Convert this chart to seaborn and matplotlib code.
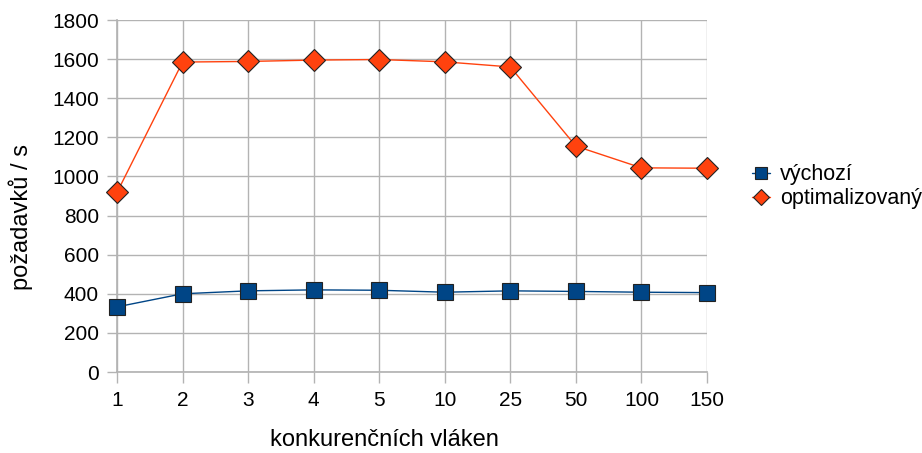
import matplotlib
matplotlib.use("Agg")
import matplotlib.pyplot as plt
import seaborn as sns
import pandas as pd

categories = ["1", "2", "3", "4", "5", "10", "25", "50", "100", "150"]
vychozi = [333, 400, 415, 420, 418, 408, 415, 412, 408, 406]
optimalizovany = [918, 1585, 1588, 1595, 1598, 1586, 1560, 1155, 1044, 1042]
series_names = ["výchozí", "optimalizovaný"]
yticks = [0, 200, 400, 600, 800, 1000, 1200, 1400, 1600, 1800]

df = pd.DataFrame({
    "x": list(range(len(categories))) * 2,
    "y": vychozi + optimalizovany,
    "series": [series_names[0]] * len(categories) + [series_names[1]] * len(categories),
})

sns.set_theme(style="white")
plt.rcParams["font.family"] = ["Liberation Sans", "DejaVu Sans"]
plt.rcParams["text.color"] = "black"
plt.rcParams["axes.labelcolor"] = "black"
plt.rcParams["xtick.labelcolor"] = "black"
plt.rcParams["ytick.labelcolor"] = "black"

fig = plt.figure(figsize=(9.22, 4.53), dpi=100)
ax = fig.add_axes([117 / 922, 1 - 372 / 453, (707 - 117) / 922, (372 - 20) / 453])

palette = {series_names[0]: "#004586", series_names[1]: "#ff420e"}
markers = {series_names[0]: "s", series_names[1]: "D"}
sns.lineplot(data=df, x="x", y="y", hue="series", style="series", palette=palette,
             markers=markers, dashes=False, linewidth=1, markersize=11,
             markeredgecolor="#222222", markeredgewidth=0.8, ax=ax, zorder=3,
             clip_on=False)

ax.set_xlim(0, len(categories) - 1)
ax.set_ylim(0, 1800)
ax.set_xticks(range(len(categories)))
ax.set_xticklabels(categories)
ax.set_yticks(yticks)
ax.grid(True, color="#b3b3b3", linewidth=1)
ax.set_axisbelow(True)
for s in ["top", "right"]:
    ax.spines[s].set_visible(False)
for s in ["left", "bottom"]:
    ax.spines[s].set_color("#b3b3b3")
ax.tick_params(axis="y", length=7, width=1, color="#b3b3b3", labelsize=15, pad=6, left=True)
ax.tick_params(axis="x", length=8, width=1, color="#b3b3b3", labelsize=15, pad=6, bottom=True)
ax.set_xlabel("konkurenčních vláken", fontsize=17)
ax.set_ylabel("požadavků / s", fontsize=17)
ax.xaxis.set_label_coords(0.454, -0.163)
ax.yaxis.set_label_coords(-0.143, 0.441)

handles, labels = ax.get_legend_handles_labels()
for h in handles:
    h.set_markersize(8)
leg = ax.legend(handles, labels, loc="center left", bbox_to_anchor=(1.076, 0.526),
                frameon=False, fontsize=15.5, handlelength=0.85, handletextpad=0.45,
                labelspacing=0.15, borderpad=0, borderaxespad=0)

fig.savefig("out.png", dpi=100)
